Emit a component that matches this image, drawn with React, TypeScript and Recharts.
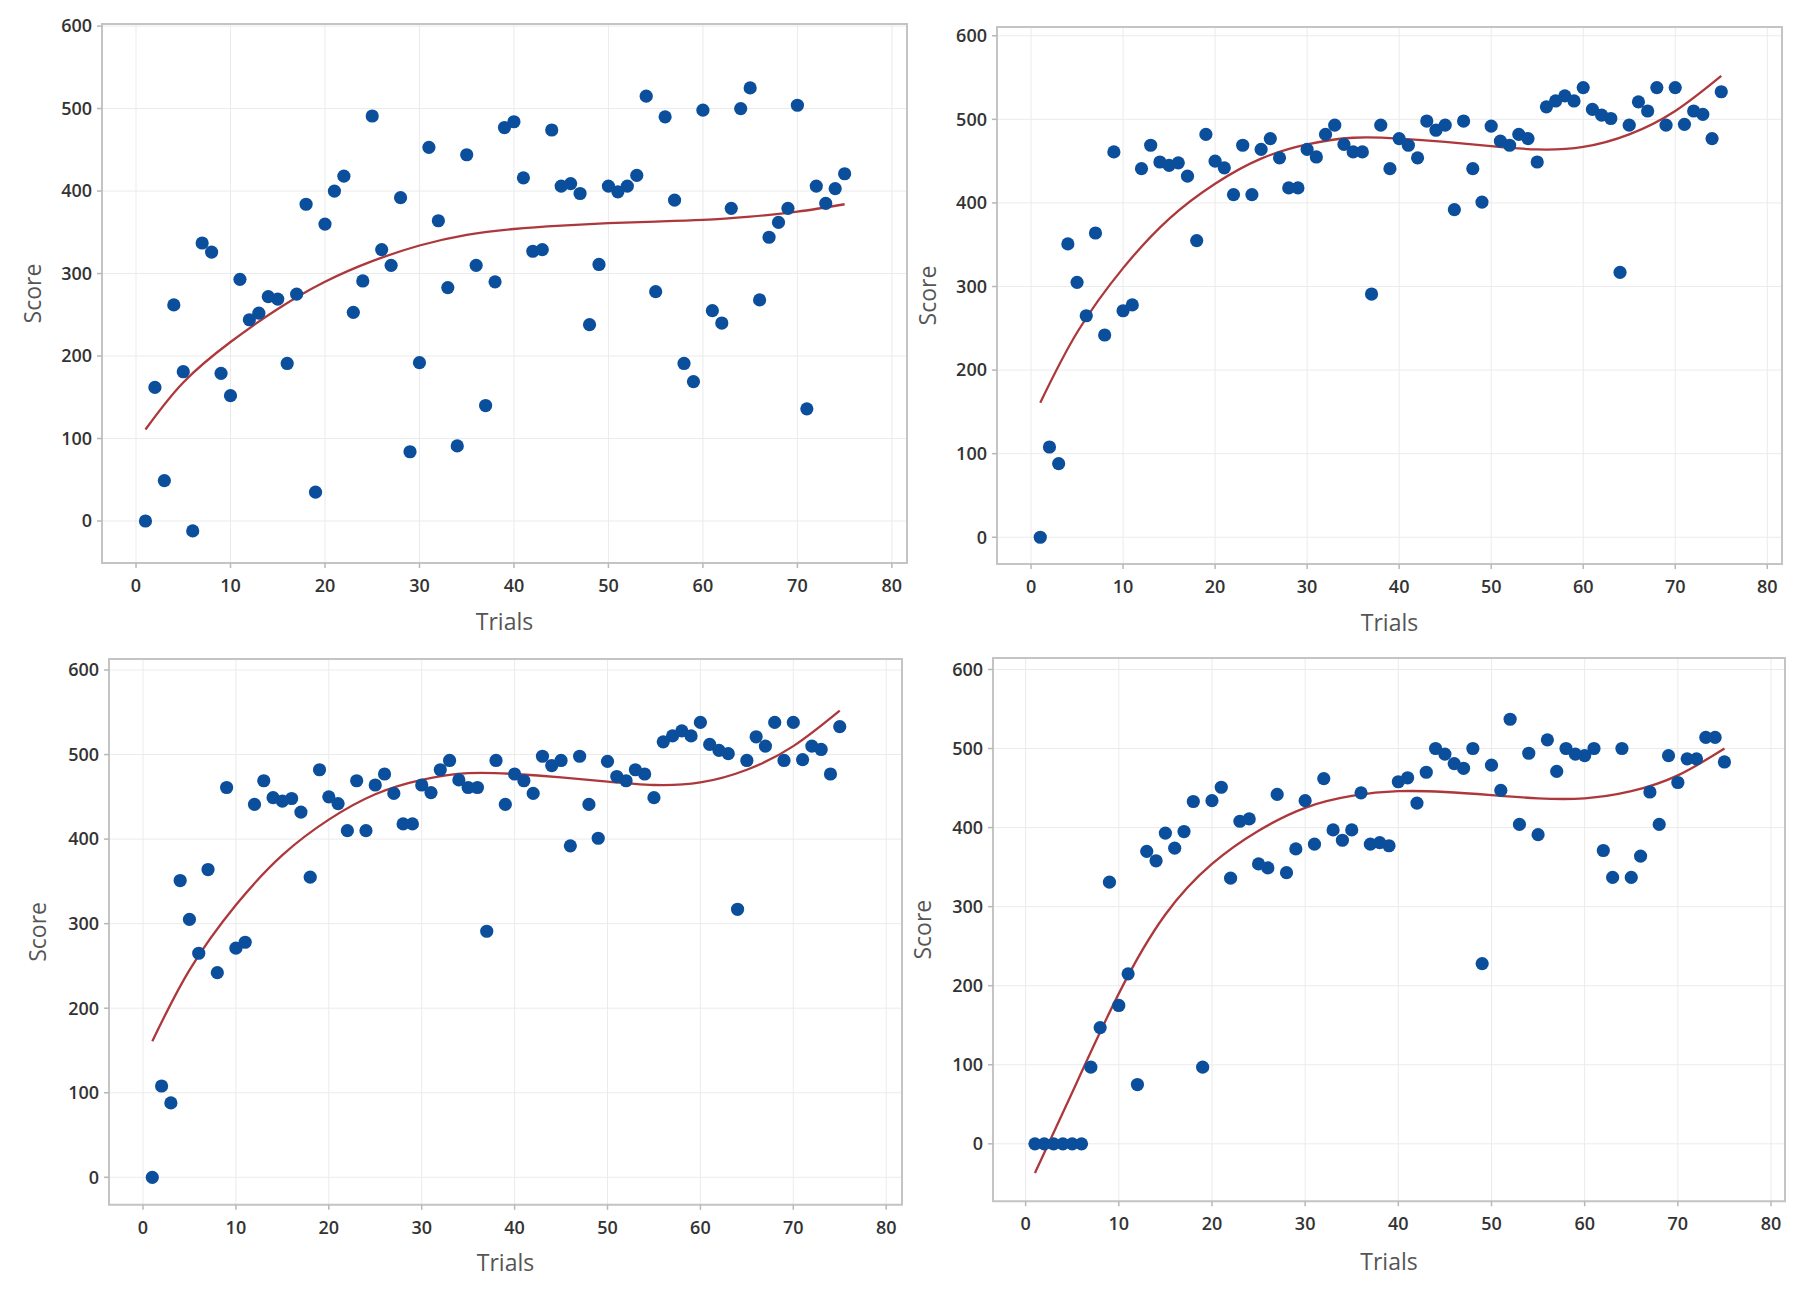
import React from 'react';
import { ComposedChart, Scatter, Line, XAxis, YAxis, CartesianGrid, ReferenceArea } from 'recharts';

const trials = [
  1, 2, 3, 4, 5, 6, 7, 8, 9, 10, 11, 12, 13, 14, 15, 16, 17, 18, 19, 20,
  21, 22, 23, 24, 25, 26, 27, 28, 29, 30, 31, 32, 33, 34, 35, 36, 37, 38, 39, 40,
  41, 42, 43, 44, 45, 46, 47, 48, 49, 50, 51, 52, 53, 54, 55, 56, 57, 58, 59, 60,
  61, 62, 63, 64, 65, 66, 67, 68, 69, 70, 71, 72, 73, 74, 75,
];

// Top-left panel scores
const scoresA = [
  0, 162, 49, 262, 181, -12, 337, 326, 179, 152, 293, 244, 252, 272, 269, 191, 275, 384, 35, 360,
  400, 418, 253, 291, 491, 329, 310, 392, 84, 192, 453, 364, 283, 91, 444, 310, 140, 290, 477, 484,
  416, 327, 329, 474, 406, 409, 397, 238, 311, 406, 399, 406, 419, 515, 278, 490, 389, 191, 169, 498,
  255, 240, 379, 500, 525, 268, 344, 362, 379, 504, 136, 406, 385, 403, 421,
];

// Top-right and bottom-left panel scores
const scoresB = [
  0, 108, 88, 351, 305, 265, 364, 242, 461, 271, 278, 441, 469, 449, 445, 448, 432, 355, 482, 450,
  442, 410, 469, 410, 464, 477, 454, 418, 418, 464, 455, 482, 493, 470, 461, 461, 291, 493, 441, 477,
  469, 454, 498, 487, 493, 392, 498, 441, 401, 492, 474, 469, 482, 477, 449, 515, 522, 528, 522, 538,
  512, 505, 501, 317, 493, 521, 510, 538, 493, 538, 494, 510, 506, 477, 533,
];

// Bottom-right panel scores
const scoresD = [
  0, 0, 0, 0, 0, 0, 97, 147, 331, 175, 215, 75, 370, 358, 393, 374, 395, 433, 97, 434,
  451, 336, 408, 411, 354, 349, 442, 343, 373, 434, 379, 462, 397, 384, 397, 444, 379, 381, 377, 458,
  463, 431, 470, 500, 493, 481, 475, 500, 228, 479, 447, 537, 404, 494, 391, 511, 471, 500, 493, 491,
  500, 371, 337, 500, 337, 364, 445, 404, 491, 457, 487, 487, 514, 514, 483,
];

// Fitted curves
const fitTrials = [1, 5, 10, 15, 20, 25, 30, 35, 40, 45, 50, 55, 60, 65, 70, 75];
const fitA = [111, 168, 217, 257, 290, 315, 334, 347, 354, 358, 361, 363, 365, 369, 375, 384];
const fitB = [161, 245, 322, 381, 423, 453, 470, 478, 477, 473, 468, 464, 467, 482, 510, 552];
const fitD = [-37, 65, 190, 290, 354, 396, 425, 440, 446, 445, 441, 437, 437, 446, 466, 500];

const xTicks = [0, 10, 20, 30, 40, 50, 60, 70, 80];
const yTicks = [0, 100, 200, 300, 400, 500, 600];

const xLabel = 'Trials';
const yLabel = 'Score';

type PanelCfg = {
  key: string;
  scores: number[];
  fit: number[];
  plot: { l: number; t: number; r: number; b: number };
  xd: [number, number];
  yd: [number, number];
  scoreX: number;
  trialsY: number;
};

const panels: PanelCfg[] = [
  { key: 'a', scores: scoresA, fit: fitA, plot: { l: 102, t: 24.4, r: 907, b: 563.5 }, xd: [-3.6, 81.6], yd: [-51, 602.5], scoreX: 32, trialsY: 621 },
  { key: 'b', scores: scoresB, fit: fitB, plot: { l: 997, t: 26.5, r: 1782, b: 563.5 }, xd: [-3.7, 81.6], yd: [-32, 610.5], scoreX: 927, trialsY: 621 },
  { key: 'c', scores: scoresB, fit: fitB, plot: { l: 109, t: 658.7, r: 902, b: 1204.5 }, xd: [-3.66, 81.7], yd: [-32.5, 613], scoreX: 37, trialsY: 1262 },
  { key: 'd', scores: scoresD, fit: fitD, plot: { l: 993, t: 657.5, r: 1785, b: 1200.8 }, xd: [-3.5, 81.5], yd: [-72.7, 614.5], scoreX: 922, trialsY: 1261 },
];

const FONT = '"Open Sans", "Noto Sans", sans-serif';
const tickStyle = { fontSize: 18, fill: '#333', fontFamily: FONT, fontWeight: 600 };

const Dot = (props: any) => {
  if (props.cx == null || props.cy == null) return null;
  return <circle cx={props.cx} cy={props.cy} r={6.6} fill="#0b4f9c" />;
};

function Panel({ p }: { p: PanelCfg }) {
  const AW = 100;
  const TOP = 20;
  const RIGHT = 20;
  const XH = 100;
  const left = p.plot.l - AW;
  const top = p.plot.t - TOP;
  const width = p.plot.r - p.plot.l + AW + RIGHT;
  const height = p.plot.b - p.plot.t + TOP + XH;
  const pts = trials.map((t, i) => ({ x: t, y: p.scores[i] }));
  const fit = fitTrials.map((t, i) => ({ x: t, y: p.fit[i] }));
  const cy = (p.plot.t + p.plot.b) / 2 - top;
  const sx = p.scoreX - left;
  const cx = (p.plot.l + p.plot.r) / 2 - left;
  const ty = p.trialsY - top;

  return (
    <div style={{ position: 'absolute', left, top }}>
      <ComposedChart width={width} height={height} margin={{ top: TOP, right: RIGHT, left: 0, bottom: 0 }}>
        <CartesianGrid stroke="#ebebeb" strokeWidth={1} />
        <XAxis
          type="number"
          dataKey="x"
          domain={p.xd}
          ticks={xTicks}
          allowDataOverflow
          height={XH}
          axisLine={false}
          tickLine={{ stroke: '#b8b8b8', strokeWidth: 1.5 }}
          tickSize={5}
          tickMargin={11}
          tick={tickStyle}
          label={{
            content: () => (
              <text x={cx} y={ty} textAnchor="middle" dominantBaseline="central" fontSize={23} fill="#555" fontFamily={FONT}>
                {xLabel}
              </text>
            ),
          }}
        />
        <YAxis
          type="number"
          dataKey="y"
          domain={p.yd}
          ticks={yTicks}
          allowDataOverflow
          width={AW}
          axisLine={false}
          tickLine={{ stroke: '#b8b8b8', strokeWidth: 1.5 }}
          tickSize={5}
          tickMargin={5}
          tick={tickStyle}
          label={{
            content: () => (
              <text
                x={sx}
                y={cy}
                transform={`rotate(-90, ${sx}, ${cy})`}
                textAnchor="middle"
                dominantBaseline="central"
                fontSize={23}
                fill="#555"
                fontFamily={FONT}
              >
                {yLabel}
              </text>
            ),
          }}
        />
        <ReferenceArea
          x1={p.xd[0]}
          x2={p.xd[1]}
          y1={p.yd[0]}
          y2={p.yd[1]}
          fill="#ffffff"
          fillOpacity={0}
          stroke="#c4c4c4"
          strokeWidth={2}
          ifOverflow="visible"
        />
        <Line
          data={fit}
          dataKey="y"
          type="natural"
          stroke="#ad383c"
          strokeWidth={2.3}
          dot={false}
          activeDot={false}
          isAnimationActive={false}
        />
        <Scatter data={pts} dataKey="y" shape={Dot} isAnimationActive={false} />
      </ComposedChart>
    </div>
  );
}

export default function App() {
  return (
    <div style={{ position: 'absolute', left: 0, top: 0, width: 1800, height: 1294, background: '#fff', fontFamily: FONT }}>
      {panels.map((p) => (
        <Panel key={p.key} p={p} />
      ))}
    </div>
  );
}
